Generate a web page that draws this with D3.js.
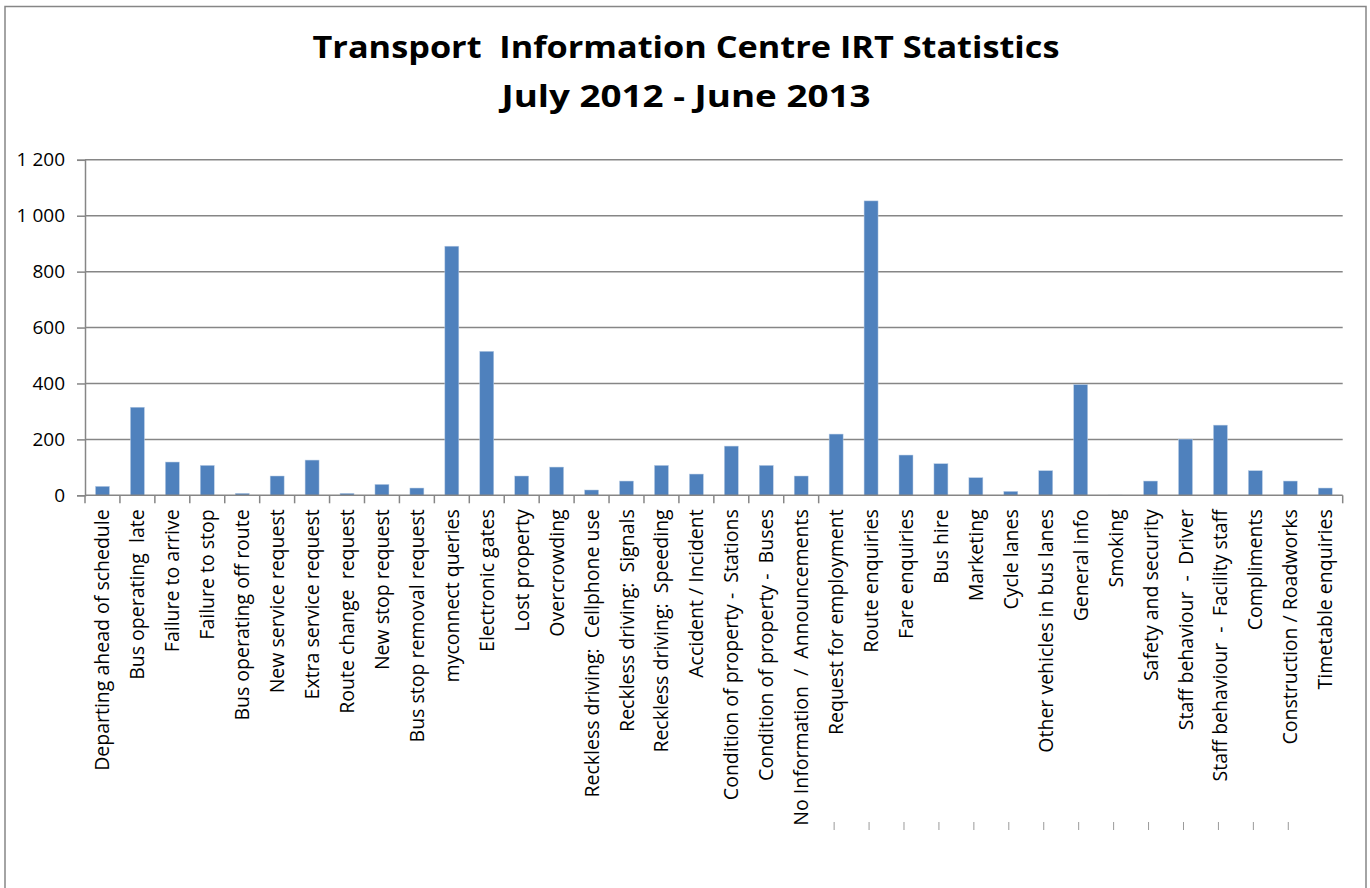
<!DOCTYPE html>
<html>
<head>
<meta charset="utf-8">
<script src="https://cdn.jsdelivr.net/npm/d3@7"></script>
<style>
  body { margin: 0; background: #fff; }
  text { font-family: "Open Sans", Lato, sans-serif; fill: #000; white-space: pre; }
</style>
</head>
<body>
<div id="chart"></div>
<script>
////////////////////////////////////////////////////
// data
////////////////////////////////////////////////////
var categories = [
	"Departing ahead of schedule", "Bus operating  late", "Failure to arrive", "Failure to stop",
	"Bus operating off route", "New service request", "Extra service request", "Route change  request",
	"New stop request", "Bus stop removal request", "myconnect queries", "Electronic gates",
	"Lost property", "Overcrowding", "Reckless driving:  Cellphone use", "Reckless driving:  Signals",
	"Reckless driving:  Speeding", "Accident / Incident", "Condition of property -  Stations",
	"Condition of property -  Buses", "No Information  /  Announcements", "Request for employment",
	"Route enquiries", "Fare enquiries", "Bus hire", "Marketing", "Cycle lanes",
	"Other vehicles in bus lanes", "General info", "Smoking", "Safety and security",
	"Staff behaviour  -  Driver", "Staff behaviour  -  Facility staff", "Compliments",
	"Construction / Roadworks", "Timetable enquiries"
];
var counts = [
	32, 315, 119, 107, 7, 69, 126, 7, 39, 26, 891, 515,
	69, 101, 19, 51, 107, 76, 176, 107, 69, 219, 1053, 144,
	113, 63, 14, 88, 396, 1, 51, 201, 251, 88, 51, 26
];
var yTicks = [0, 200, 400, 600, 800, 1000, 1200];
var yTickLabels = ["0", "200", "400", "600", "800", "1 000", "1 200"];
var titleLines = ["Transport  Information Centre IRT Statistics", "July 2012 - June 2013"];

////////////////////////////////////////////////////
function buildChart() {
	var W = 1370, H = 888;
	var plotL = 85, plotR = 1342.7, plotT = 159.8, plotB = 495.3;
	var gridColor = "#868686";

	var svg = d3.select("#chart").append("svg")
		.attr("width", W)
		.attr("height", H);

	// outer frame (bottom edge is off the picture)
	svg.append("rect")
		.attr("x", 5).attr("y", 6.5)
		.attr("width", 1361).attr("height", 900)
		.attr("fill", "none")
		.attr("stroke", gridColor)
		.attr("stroke-width", 1.5);

	var x = d3.scaleBand()
		.domain(categories)
		.range([plotL, plotR])
		.paddingInner(0.6)
		.paddingOuter(0.3);
	var step = (plotR - plotL) / categories.length;

	var y = d3.scaleLinear()
		.domain([0, 1200])
		.range([plotB, plotT]);

	// title (fitted to the width of the original lines)
	var titleWidths = [747, 369];
	svg.append("g").selectAll("text")
		.data(titleLines)
		.enter().append("text")
			.attr("x", 686)
			.attr("y", function (d, i) { return 58 + i * 49; })
			.attr("text-anchor", "middle")
			.attr("font-weight", "bold")
			.attr("font-size", 31)
			.attr("textLength", function (d, i) { return titleWidths[i]; })
			.attr("lengthAdjust", "spacingAndGlyphs")
			.text(function (d) { return d; });

	// y axis + tick labels
	var yAxis = d3.axisLeft(y)
		.tickValues(yTicks)
		.tickSize(8)
		.tickFormat(function (d, i) { return yTickLabels[i]; });
	var gy = svg.append("g")
		.attr("transform", "translate(" + plotL + ",0)")
		.call(yAxis);
	gy.select(".domain").attr("stroke", gridColor).attr("stroke-width", 1.5);
	gy.selectAll(".tick line").attr("stroke", gridColor).attr("stroke-width", 1.5);
	gy.selectAll(".tick text")
		.attr("x", -20)
		.attr("font-size", 19)
		.style("font-family", "'Open Sans', sans-serif")
		.attr("fill", "#000");

	// horizontal grid lines
	svg.append("g").selectAll("line")
		.data(yTicks.filter(function (d) { return d > 0; }))
		.enter().append("line")
			.attr("x1", plotL).attr("x2", plotR)
			.attr("y1", function (d) { return y(d); })
			.attr("y2", function (d) { return y(d); })
			.attr("stroke", gridColor)
			.attr("stroke-width", 1.5);

	// bars
	svg.append("g").selectAll("rect")
		.data(counts)
		.enter().append("rect")
			.attr("x", function (d, i) { return x(categories[i]); })
			.attr("y", function (d) { return y(d); })
			.attr("width", x.bandwidth())
			.attr("height", function (d) { return plotB - y(d); })
			.attr("fill", "#4f81bd")
			.attr("stroke", "#b9cde5")
			.attr("stroke-width", 0.5);

	// x axis line
	svg.append("line")
		.attr("x1", plotL).attr("x2", plotR)
		.attr("y1", plotB).attr("y2", plotB)
		.attr("stroke", gridColor)
		.attr("stroke-width", 1.5);

	// category boundary ticks: only the first 21 plus the right end show in the original
	var boundaryIdx = d3.range(0, 22).concat([categories.length]);
	svg.append("g").selectAll("line")
		.data(boundaryIdx)
		.enter().append("line")
			.attr("x1", function (d) { return plotL + d * step; })
			.attr("x2", function (d) { return plotL + d * step; })
			.attr("y1", plotB).attr("y2", plotB + 8)
			.attr("stroke", gridColor)
			.attr("stroke-width", 1.5);

	// stray little marks low under the labels
	svg.append("g").selectAll("line")
		.data(d3.range(21, 35))
		.enter().append("line")
			.attr("x1", function (d) { return x(categories[d]) + x.bandwidth() / 2 - 2; })
			.attr("x2", function (d) { return x(categories[d]) + x.bandwidth() / 2 - 2; })
			.attr("y1", 822).attr("y2", 830)
			.attr("stroke", "#9a9a9a")
			.attr("stroke-width", 1);

	// category labels, rotated
	svg.append("g").selectAll("text")
		.data(categories)
		.enter().append("text")
			.attr("transform", function (d) {
				return "translate(" + (x(d) + x.bandwidth() / 2) + "," + (plotB + 14) + ") rotate(-90)";
			})
			.attr("dy", "0.36em")
			.attr("text-anchor", "end")
			.attr("font-size", 19.5)
			.text(function (d) { return d; });
}
buildChart();
</script>
</body>
</html>
